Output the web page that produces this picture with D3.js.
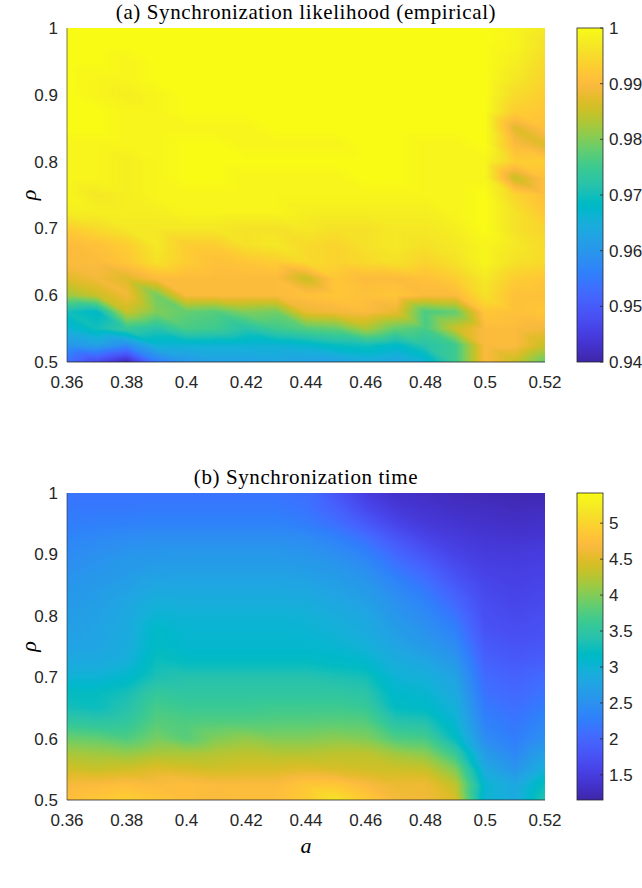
<!DOCTYPE html>
<html>
<head>
<meta charset="utf-8">
<script src="https://cdn.jsdelivr.net/npm/d3@7/dist/d3.min.js"></script>
<style>
  html, body { margin: 0; padding: 0; background: #ffffff; }
  svg { display: block; }
</style>
</head>
<body>
<svg id="fig" width="642" height="888"></svg>
<script>
// ---- grid coordinates ----
const aValues = [0.36, 0.37, 0.38, 0.39, 0.40, 0.41, 0.42, 0.43, 0.44, 0.45, 0.46, 0.47, 0.48, 0.49, 0.50, 0.51, 0.52];
const rhoValues = [1.000, 0.975, 0.950, 0.925, 0.900, 0.875, 0.850, 0.825, 0.800, 0.775, 0.750,
                   0.725, 0.700, 0.675, 0.650, 0.625, 0.600, 0.575, 0.550, 0.525, 0.500];

// ---- (a) empirical synchronization likelihood, rows follow rhoValues ----
const likelihood = [
  [1.000,1.000,1.000,1.000,1.000,1.000,1.000,1.000,1.000,1.000,1.000,1.000,1.000,1.000,1.000,0.999,0.997],
  [1.000,1.000,1.000,1.000,1.000,1.000,1.000,1.000,1.000,1.000,1.000,1.000,1.000,1.000,1.000,0.999,0.996],
  [1.000,1.000,0.999,1.000,1.000,1.000,1.000,1.000,1.000,1.000,1.000,1.000,1.000,1.000,1.000,0.998,0.995],
  [1.000,0.999,0.999,1.000,1.000,1.000,1.000,1.000,1.000,1.000,1.000,1.000,1.000,1.000,1.000,0.997,0.994],
  [1.000,0.999,0.998,0.999,1.000,1.000,1.000,1.000,1.000,1.000,1.000,1.000,1.000,1.000,1.000,0.995,0.993],
  [1.000,1.000,0.999,0.999,1.000,1.000,1.000,1.000,1.000,1.000,1.000,1.000,1.000,1.000,1.000,0.993,0.992],
  [1.000,1.000,0.999,0.999,0.999,0.999,0.999,1.000,1.000,1.000,1.000,1.000,1.000,1.000,1.000,0.987,0.991],
  [0.999,0.999,0.999,0.999,1.000,1.000,0.999,0.999,0.999,0.999,1.000,1.000,0.999,0.999,1.000,0.990,0.987],
  [0.999,0.999,0.998,0.999,1.000,1.000,1.000,1.000,1.000,1.000,1.000,1.000,0.999,0.999,0.999,0.993,0.993],
  [0.999,0.999,0.998,0.999,1.000,1.000,0.999,0.999,0.999,0.999,1.000,1.000,0.999,0.999,0.999,0.985,0.991],
  [0.999,0.997,0.998,0.999,0.999,0.999,0.999,0.999,0.999,0.999,0.999,0.999,0.999,0.999,1.000,0.994,0.991],
  [0.998,0.998,0.998,0.998,0.999,0.999,0.999,0.999,0.998,0.998,0.998,0.998,0.998,0.999,1.000,0.996,0.992],
  [0.993,0.995,0.997,0.997,0.997,0.997,0.996,0.996,0.997,0.996,0.996,0.997,0.997,0.998,1.000,0.996,0.994],
  [0.990,0.991,0.993,0.997,0.993,0.993,0.996,0.997,0.995,0.994,0.996,0.997,0.996,0.997,0.999,0.997,0.995],
  [0.990,0.990,0.992,0.996,0.993,0.991,0.992,0.993,0.995,0.994,0.995,0.996,0.994,0.996,0.999,0.996,0.995],
  [0.987,0.989,0.987,0.990,0.990,0.990,0.990,0.990,0.985,0.992,0.990,0.990,0.991,0.993,0.997,0.993,0.992],
  [0.982,0.985,0.989,0.979,0.990,0.990,0.990,0.990,0.991,0.992,0.991,0.992,0.990,0.990,0.996,0.991,0.991],
  [0.970,0.968,0.985,0.980,0.978,0.977,0.980,0.979,0.988,0.989,0.990,0.988,0.976,0.978,0.992,0.991,0.992],
  [0.966,0.970,0.974,0.972,0.976,0.975,0.972,0.975,0.977,0.978,0.983,0.978,0.976,0.985,0.990,0.990,0.989],
  [0.960,0.962,0.958,0.966,0.966,0.966,0.966,0.966,0.967,0.969,0.970,0.968,0.972,0.975,0.990,0.990,0.985],
  [0.953,0.947,0.941,0.955,0.960,0.962,0.962,0.963,0.962,0.962,0.964,0.963,0.966,0.975,0.990,0.985,0.978]
];

// ---- (b) synchronization time, rows follow rhoValues ----
const syncTime = [
  [2.15,2.15,2.15,2.15,2.15,2.15,2.15,2.15,2.10,1.80,1.50,1.35,1.30,1.25,1.22,1.20,1.20],
  [2.20,2.20,2.20,2.22,2.22,2.22,2.22,2.22,2.15,1.95,1.65,1.45,1.38,1.32,1.30,1.26,1.28],
  [2.25,2.28,2.30,2.32,2.32,2.32,2.32,2.32,2.25,2.10,1.85,1.60,1.45,1.40,1.35,1.32,1.35],
  [2.35,2.40,2.45,2.48,2.48,2.48,2.48,2.48,2.44,2.32,2.12,1.82,1.60,1.48,1.42,1.40,1.42],
  [2.43,2.50,2.56,2.58,2.60,2.60,2.60,2.60,2.56,2.48,2.32,2.02,1.78,1.58,1.48,1.46,1.50],
  [2.50,2.56,2.63,2.68,2.70,2.70,2.70,2.70,2.66,2.60,2.48,2.20,1.98,1.70,1.55,1.52,1.55],
  [2.55,2.63,2.70,2.80,2.80,2.80,2.80,2.80,2.78,2.70,2.60,2.38,2.15,1.85,1.62,1.56,1.60],
  [2.60,2.68,2.78,2.93,2.90,2.90,2.90,2.90,2.88,2.80,2.70,2.50,2.30,2.00,1.68,1.60,1.65],
  [2.65,2.73,2.83,3.03,3.00,3.00,3.00,3.00,2.98,2.90,2.80,2.58,2.42,2.15,1.72,1.65,1.70],
  [2.70,2.76,2.86,3.14,3.05,3.05,3.05,3.05,3.03,2.97,2.87,2.68,2.52,2.30,1.78,1.70,1.75],
  [2.75,2.78,2.88,3.18,3.08,3.08,3.08,3.08,3.08,3.04,2.96,2.78,2.62,2.45,1.85,1.78,1.82],
  [2.85,2.85,2.95,3.25,3.20,3.20,3.20,3.20,3.20,3.15,3.10,2.90,2.80,2.60,1.95,1.85,1.90],
  [3.00,3.00,3.10,3.35,3.40,3.40,3.40,3.40,3.40,3.35,3.30,3.00,2.95,2.75,2.05,1.95,2.05],
  [3.20,3.20,3.30,3.55,3.50,3.50,3.50,3.50,3.50,3.50,3.45,3.10,3.05,2.85,2.12,2.02,2.15],
  [3.30,3.25,3.40,3.70,3.62,3.62,3.62,3.65,3.65,3.65,3.60,3.20,3.15,2.95,2.22,2.10,2.25],
  [3.55,3.50,3.55,3.80,3.75,3.78,3.78,3.80,3.80,3.82,3.80,3.45,3.40,3.05,2.32,2.18,2.38],
  [3.90,3.85,3.75,3.95,3.80,4.00,4.08,4.00,4.00,4.05,4.00,3.75,3.70,3.20,2.45,2.25,2.50],
  [4.20,4.15,4.10,4.20,4.20,4.25,4.30,4.25,4.25,4.30,4.30,4.15,4.05,3.60,2.65,2.38,2.72],
  [4.40,4.35,4.40,4.50,4.45,4.40,4.45,4.45,4.50,4.45,4.40,4.38,4.35,4.00,2.85,2.55,2.95],
  [4.65,4.70,4.75,4.70,4.75,4.70,4.70,4.70,4.85,4.85,4.70,4.58,4.60,4.30,3.05,2.80,3.25],
  [4.75,4.85,4.95,4.85,4.75,4.70,4.75,4.75,4.90,5.15,4.90,4.65,4.62,4.45,3.00,2.85,3.40]
];

// ---- ticks ----
const aTicks = [0.36, 0.38, 0.40, 0.42, 0.44, 0.46, 0.48, 0.50, 0.52];
const rhoTicks = [0.5, 0.6, 0.7, 0.8, 0.9, 1];
const likelihoodTicks = [0.94, 0.95, 0.96, 0.97, 0.98, 0.99, 1];
const timeTicks = [1.5, 2, 2.5, 3, 3.5, 4, 4.5, 5];
const likelihoodRange = [0.94, 1];
const timeRange = [1.15, 5.42];

// parula colour map (64 entries)
const parula = [
  [0.2422,0.1504,0.6603],[0.2504,0.1650,0.7076],[0.2578,0.1818,0.7511],[0.2647,0.1978,0.7952],
  [0.2706,0.2147,0.8364],[0.2751,0.2342,0.8710],[0.2783,0.2559,0.8991],[0.2803,0.2782,0.9221],
  [0.2813,0.3006,0.9414],[0.2810,0.3228,0.9579],[0.2795,0.3447,0.9717],[0.2760,0.3667,0.9829],
  [0.2699,0.3892,0.9906],[0.2602,0.4123,0.9952],[0.2440,0.4358,0.9988],[0.2206,0.4603,0.9973],
  [0.1963,0.4847,0.9892],[0.1834,0.5074,0.9798],[0.1786,0.5289,0.9682],[0.1764,0.5499,0.9520],
  [0.1687,0.5703,0.9359],[0.1540,0.5902,0.9218],[0.1460,0.6091,0.9079],[0.1380,0.6276,0.8973],
  [0.1248,0.6459,0.8883],[0.1113,0.6635,0.8763],[0.0952,0.6798,0.8598],[0.0689,0.6948,0.8394],
  [0.0297,0.7082,0.8163],[0.0036,0.7203,0.7917],[0.0067,0.7312,0.7660],[0.0433,0.7411,0.7394],
  [0.0964,0.7500,0.7120],[0.1408,0.7584,0.6842],[0.1717,0.7670,0.6554],[0.1938,0.7758,0.6251],
  [0.2161,0.7843,0.5923],[0.2470,0.7918,0.5567],[0.2906,0.7973,0.5188],[0.3406,0.8008,0.4789],
  [0.3909,0.8029,0.4354],[0.4456,0.8024,0.3909],[0.5044,0.7993,0.3480],[0.5616,0.7942,0.3045],
  [0.6174,0.7876,0.2612],[0.6720,0.7793,0.2227],[0.7242,0.7698,0.1910],[0.7738,0.7598,0.1646],
  [0.8203,0.7498,0.1535],[0.8634,0.7406,0.1596],[0.9035,0.7330,0.1774],[0.9393,0.7288,0.2100],
  [0.9728,0.7298,0.2394],[0.9956,0.7434,0.2371],[0.9970,0.7659,0.2199],[0.9952,0.7893,0.2028],
  [0.9892,0.8136,0.1885],[0.9786,0.8386,0.1766],[0.9676,0.8639,0.1643],[0.9610,0.8890,0.1537],
  [0.9597,0.9135,0.1423],[0.9628,0.9373,0.1265],[0.9691,0.9606,0.1064],[0.9769,0.9839,0.0805]
].map(c => d3.rgb(c[0] * 255, c[1] * 255, c[2] * 255).formatHex());

const parulaInterp = d3.piecewise(d3.interpolateRgb, parula);

const svg = d3.select("#fig");
const defs = svg.append("defs");

const TEXT = "#262626";
const SANS = "'Liberation Sans', Arial, Helvetica, sans-serif";
const SERIF = "'Liberation Serif', 'Times New Roman', serif";

function drawPanel(cfg) {
  const { top, bottom, values, range, cbTicks, title, id, showXLabel } = cfg;
  const left = 67, right = 545;
  const x = d3.scaleLinear().domain([0.36, 0.52]).range([left, right]);
  const y = d3.scaleLinear().domain([0.5, 1]).range([bottom, top]);
  const color = d3.scaleSequential(parulaInterp).domain(range).clamp(true);

  // colour lookup table
  const N = 1024;
  const lut = d3.range(N).map(k => d3.rgb(color(range[0] + (k / (N - 1)) * (range[1] - range[0]))));

  // index scales from data coordinates to grid positions
  const colIndex = d3.scaleLinear().domain(d3.extent(aValues)).range([0, aValues.length - 1]);
  const rowIndex = d3.scaleLinear().domain([rhoValues[0], rhoValues[rhoValues.length - 1]]).range([0, rhoValues.length - 1]);

  // Gouraud-style shading: each grid cell is split into two triangles
  function sample(a, r) {
    const fc = Math.max(0, Math.min(aValues.length - 1, colIndex(a)));
    const fr = Math.max(0, Math.min(rhoValues.length - 1, rowIndex(r)));
    const c0 = Math.min(Math.floor(fc), aValues.length - 2);
    const r0 = Math.min(Math.floor(fr), rhoValues.length - 2);
    const u = fc - c0, v = fr - r0;
    const TL = values[r0][c0], TR = values[r0][c0 + 1];
    const BL = values[r0 + 1][c0], BR = values[r0 + 1][c0 + 1];
    if (u >= v) return TL + u * (TR - TL) + v * (BR - TR);
    return TL + v * (BL - TL) + u * (BR - BL);
  }

  const w = right - left, h = bottom - top;
  const canvas = document.createElement("canvas");
  canvas.width = w; canvas.height = h;
  const ctx = canvas.getContext("2d");
  const img = ctx.createImageData(w, h);
  for (let py = 0; py < h; py++) {
    const r = y.invert(top + py + 0.5);
    for (let px = 0; px < w; px++) {
      const a = x.invert(left + px + 0.5);
      const val = sample(a, r);
      let k = Math.round((val - range[0]) / (range[1] - range[0]) * (N - 1));
      k = Math.max(0, Math.min(N - 1, k));
      const c = lut[k];
      const o = (py * w + px) * 4;
      img.data[o] = c.r; img.data[o + 1] = c.g; img.data[o + 2] = c.b; img.data[o + 3] = 255;
    }
  }
  ctx.putImageData(img, 0, 0);

  const g = svg.append("g").attr("id", id);
  g.append("image")
    .attr("x", left).attr("y", top)
    .attr("width", w).attr("height", h)
    .attr("preserveAspectRatio", "none")
    .attr("href", canvas.toDataURL());

  // axes lines (left and bottom)
  g.append("line").attr("x1", left).attr("x2", left).attr("y1", top).attr("y2", bottom)
    .attr("stroke", TEXT).attr("stroke-width", 0.6);
  g.append("line").attr("x1", left).attr("x2", right).attr("y1", bottom).attr("y2", bottom)
    .attr("stroke", TEXT).attr("stroke-width", 0.8);

  // x tick labels
  g.selectAll("text.xt").data(aTicks).enter().append("text")
    .attr("class", "xt")
    .attr("x", d => x(d)).attr("y", bottom + 26)
    .attr("text-anchor", "middle")
    .attr("font-family", SANS).attr("font-size", 17).attr("fill", TEXT)
    .text(d => d3.format("")(+d.toFixed(2)));

  // y tick labels
  g.selectAll("text.yt").data(rhoTicks).enter().append("text")
    .attr("class", "yt")
    .attr("x", left - 9).attr("y", d => y(d) + 6)
    .attr("text-anchor", "end")
    .attr("font-family", SANS).attr("font-size", 17).attr("fill", TEXT)
    .text(d => d3.format("")(+d.toFixed(1)));

  // y label
  g.append("text")
    .attr("transform", `translate(36,${(top + bottom) / 2}) rotate(-90)`)
    .attr("text-anchor", "middle")
    .attr("font-family", SERIF).attr("font-style", "italic").attr("font-size", 22).attr("fill", "#000")
    .text("ρ");

  // title
  g.append("text")
    .attr("x", (left + right) / 2).attr("y", top - 9)
    .attr("text-anchor", "middle")
    .attr("font-family", SERIF).attr("font-size", 21).attr("letter-spacing", 0.6).attr("fill", "#000")
    .text(title);

  if (showXLabel) {
    g.append("text")
      .attr("x", (left + right) / 2).attr("y", bottom + 53)
      .attr("text-anchor", "middle")
      .attr("font-family", SERIF).attr("font-style", "italic").attr("font-size", 22).attr("fill", "#000")
      .text("a");
  }

  // colour bar
  const cbL = 577, cbR = 603;
  const cy = d3.scaleLinear().domain(range).range([bottom, top]);
  const grad = defs.append("linearGradient").attr("id", id + "-grad")
    .attr("x1", 0).attr("y1", 1).attr("x2", 0).attr("y2", 0);
  parula.forEach((c, i) => {
    grad.append("stop").attr("offset", i / (parula.length - 1)).attr("stop-color", c);
  });
  g.append("rect")
    .attr("x", cbL).attr("y", top).attr("width", cbR - cbL).attr("height", bottom - top)
    .attr("fill", `url(#${id}-grad)`)
    .attr("stroke", TEXT).attr("stroke-width", 0.8);
  g.selectAll("line.cbt").data(cbTicks).enter().append("line")
    .attr("class", "cbt")
    .attr("x1", cbR - 3).attr("x2", cbR)
    .attr("y1", d => cy(d)).attr("y2", d => cy(d))
    .attr("stroke", TEXT).attr("stroke-width", 0.8);
  g.selectAll("text.cbl").data(cbTicks).enter().append("text")
    .attr("class", "cbl")
    .attr("x", cbR + 6).attr("y", d => cy(d) + 6)
    .attr("font-family", SANS).attr("font-size", 17).attr("fill", TEXT)
    .text(d => d3.format("")(+d.toFixed(2)));
}

drawPanel({
  id: "likelihood", top: 28, bottom: 362, values: likelihood, range: likelihoodRange,
  cbTicks: likelihoodTicks, title: "(a) Synchronization likelihood (empirical)", showXLabel: false
});
drawPanel({
  id: "synctime", top: 493, bottom: 800, values: syncTime, range: timeRange,
  cbTicks: timeTicks, title: "(b) Synchronization time", showXLabel: true
});
</script>
</body>
</html>
